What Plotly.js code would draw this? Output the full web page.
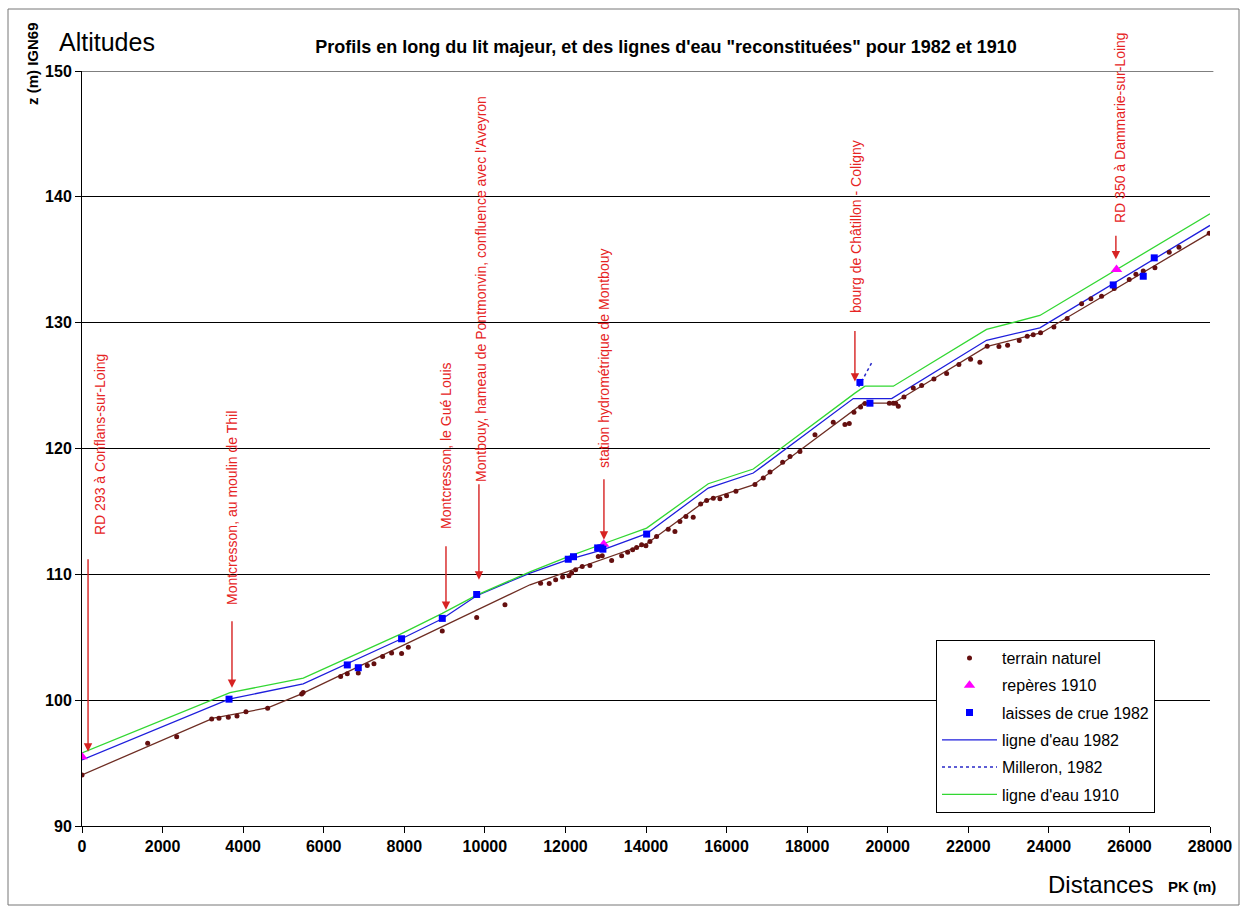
<!DOCTYPE html>
<html><head><meta charset="utf-8">
<script src="https://cdn.plot.ly/plotly-3.0.1.min.js"></script>
<style>html,body{margin:0;padding:0;background:#fff}</style>
</head><body><div id="chart" style="width:1244px;height:906px"></div>
<script>
// ---- data ----
const terrainLineX = [0, 3260, 4625, 5450, 11120, 14016, 15505, 16664, 19393, 20139, 22453, 23818, 27980];
const terrainLineY = [94.06, 98.57, 99.4, 100.5, 109.17, 112.43, 115.9, 117.1, 123.6, 123.6, 128.1, 129.2, 137.1];

const terrainX = [0,1630,2350,3219,3400,3632,3847,4070,4608,5452,5490,6420,6585,6850,6858,7082,7247,7462,7685,7933,8100,8943,9797,10499,11384,11598,11757,11930,12087,12154,12253,12417,12608,12814,12914,13147,13395,13544,13668,13767,13891,13998,14098,14263,14552,14718,14842,14991,15172,15356,15505,15670,15835,16000,16232,16705,16912,17078,17392,17575,17821,18194,18648,18938,19046,19162,19327,19435,20040,20139,20197,20263,20404,20635,20842,21147,21462,21767,22057,22288,22470,22761,22976,23265,23463,23612,23794,24125,24455,24813,25043,25309,25623,25995,26161,26343,26633,26988,27230,27980];
const terrainY = [94.06,96.58,97.10,98.50,98.57,98.65,98.75,99.07,99.35,100.50,100.60,101.88,102.10,102.55,102.15,102.75,102.90,103.47,103.74,103.70,104.20,105.50,106.57,107.58,109.30,109.28,109.57,109.78,109.89,110.10,110.37,110.63,110.70,111.41,111.48,111.10,111.48,111.76,111.95,112.13,112.35,112.27,112.60,113.00,113.59,113.40,114.20,114.60,114.54,115.58,115.86,116.05,116.00,116.25,116.60,117.13,117.65,118.13,118.90,119.37,119.77,121.10,122.08,121.90,121.98,122.88,123.30,123.57,123.60,123.60,123.60,123.35,124.10,124.80,125.00,125.53,125.96,126.67,127.10,126.85,128.13,128.10,128.20,128.58,128.93,129.03,129.20,129.65,130.33,131.50,131.90,132.10,132.72,133.44,133.84,134.10,134.37,135.60,136.00,137.10];

const reperesX = [0, 12950, 25680];
const reperesY = [95.5, 112.4, 134.23];

const laissesX = [3650, 6585, 6858, 7933, 8943, 9797, 12070, 12200, 12800, 12880, 12930, 14016, 19310, 19559, 25598, 26343, 26616];
const laissesY = [100.08, 102.8, 102.58, 104.88, 106.5, 108.4, 111.2, 111.4, 112.1, 112.1, 112.0, 113.2, 125.25, 123.6, 133.0, 133.69, 135.15];

const ligne1982X = [0, 3650, 5490, 7933, 8943, 9797, 11120, 12070, 12940, 14016, 15546, 16664, 19146, 20098, 22453, 23777, 28000];
const ligne1982Y = [95.25, 100.08, 101.3, 104.88, 106.47, 108.3, 110.1, 111.16, 111.96, 113.23, 116.86, 118.05, 123.97, 123.97, 128.6, 129.59, 137.73];

const milleronX = [19280, 19600];
const milleronY = [124.9, 126.8];

const ligne1910X = [0, 3673, 5493, 7893, 8943, 9797, 11120, 12070, 12940, 14016, 15546, 16664, 19186, 19435, 20139, 22453, 23777, 28000];
const ligne1910Y = [95.8, 100.6, 101.75, 105.23, 106.9, 108.35, 110.2, 111.4, 112.43, 113.67, 117.2, 118.37, 124.4, 124.95, 124.95, 129.46, 130.57, 138.66];

const xTicks = [0,2000,4000,6000,8000,10000,12000,14000,16000,18000,20000,22000,24000,26000,28000];
const yTicks = [90,100,110,120,130,140,150];

const seriesNames = ["terrain naturel", "repères 1910", "laisses de crue 1982", "ligne d'eau 1982", "Milleron, 1982", "ligne d'eau 1910"];

const places = ["RD 293 à Conflans-sur-Loing", "Montcresson, au moulin de Thil", "Montcresson, le Gué Louis",
  "Montbouy, hameau de Pontmonvin, confluence avec l'Aveyron", "station hydrométrique de Montbouy",
  "bourg de Châtillon - Coligny", "RD 350 à Dammarie-sur-Loing"];
const placeTipX = [150, 3723, 9035, 9853, 12956, 19186, 25664];
const placeTipY = [95.9, 100.98, 107.18, 109.57, 112.75, 125.32, 135.03];
const placeLabelX = [447, 3723, 9035, 9904, 12957, 19213, 25766];
const placeLabelY = [120.28, 115.27, 120.28, 132.68, 127.19, 137.6, 145.47];
const arrowLen = [-194, -68, -65, -97, -62, -52, -25];

// ---- traces ----
const F = '"Liberation Sans", Arial, sans-serif';
const traces = [
  {x: terrainLineX, y: terrainLineY, mode: 'lines', line: {color: 'rgb(110,45,35)', width: 1.3}, showlegend: false, hoverinfo: 'skip', legendgroup: 'g0'},
  {x: ligne1982X, y: ligne1982Y, mode: 'lines', name: seriesNames[3], line: {color: 'rgb(30,30,220)', width: 1.3}, legendrank: 4, legendgroup: 'g4'},
  {x: milleronX, y: milleronY, mode: 'lines', name: seriesNames[4], line: {color: 'rgb(40,40,200)', width: 1.5, dash: 'dot'}, legendrank: 5, legendgroup: 'g5'},
  {x: ligne1910X, y: ligne1910Y, mode: 'lines', name: seriesNames[5], line: {color: 'rgb(50,215,50)', width: 1.3}, legendrank: 6, legendgroup: 'g6'},
  {x: terrainX, y: terrainY, mode: 'markers', name: seriesNames[0], marker: {color: 'rgb(100,15,15)', size: 5, symbol: 'circle'}, legendrank: 1, legendgroup: 'g1'},
  {x: reperesX, y: reperesY, mode: 'markers', name: seriesNames[1], marker: {color: 'rgb(255,0,255)', size: 10, symbol: 'triangle-up'}, legendrank: 2, legendgroup: 'g2'},
  {x: laissesX, y: laissesY, mode: 'markers', name: seriesNames[2], marker: {color: 'rgb(0,0,255)', size: 7, symbol: 'square'}, legendrank: 3, legendgroup: 'g3'}
];

const px = v => (v - 82) / 1128;
const py = v => (826 - v) / 755;

const annotations = [];
for (let i = 0; i < places.length; i++) {
  annotations.push({x: placeTipX[i], y: placeTipY[i], xref: 'x', yref: 'y', text: '', showarrow: true,
    ax: 0, ay: arrowLen[i], arrowcolor: 'rgb(215,35,35)', arrowhead: 2, arrowsize: 1.2, arrowwidth: 1.4, standoff: 0});
  annotations.push({x: placeLabelX[i], y: placeLabelY[i], xref: 'x', yref: 'y', text: places[i], showarrow: false,
    textangle: -90, xanchor: 'center', yanchor: 'middle', font: {family: F, size: 14, color: 'rgb(230,35,35)'}});
}
annotations.push({x: px(107), y: py(42), xref: 'paper', yref: 'paper', text: 'Altitudes', showarrow: false,
  xanchor: 'center', yanchor: 'middle', font: {family: F, size: 25, color: '#000'}});
annotations.push({x: px(32), y: py(64), xref: 'paper', yref: 'paper', text: '<b>z (m) IGN69</b>', showarrow: false, textangle: -90,
  xanchor: 'center', yanchor: 'middle', font: {family: F, size: 15, color: '#000'}});
annotations.push({x: px(1100), y: py(885), xref: 'paper', yref: 'paper', text: 'Distances', showarrow: false,
  xanchor: 'center', yanchor: 'middle', font: {family: F, size: 24, color: '#000'}});
annotations.push({x: px(1192), y: py(886), xref: 'paper', yref: 'paper', text: '<b>PK (m)</b>', showarrow: false,
  xanchor: 'center', yanchor: 'middle', font: {family: F, size: 15, color: '#000'}});

const layout = {
  width: 1244, height: 906,
  margin: {l: 82, r: 34, t: 71, b: 80},
  paper_bgcolor: '#fff', plot_bgcolor: '#fff',
  title: {text: '<b>Profils en long du lit majeur, et des lignes d\'eau "reconstituées" pour 1982 et 1910</b>',
    x: 666/1244, xref: 'container', xanchor: 'center', y: 1 - 47/906, yref: 'container', yanchor: 'middle',
    font: {family: F, size: 18, color: '#000'}},
  xaxis: {range: [0, 28000], tickvals: xTicks, ticktext: xTicks.map(String), showgrid: false, zeroline: false,
    showline: true, linecolor: '#000', linewidth: 1, ticks: 'outside', ticklen: 6, tickcolor: '#000',
    tickfont: {family: F, size: 16, color: '#000', weight: 'bold'}},
  yaxis: {range: [90, 150], tickvals: yTicks, ticktext: yTicks.map(String), showgrid: true, gridcolor: '#000', gridwidth: 1,
    zeroline: false, showline: true, linecolor: '#000', linewidth: 1, ticks: 'outside', ticklen: 6, tickcolor: '#000',
    tickfont: {family: F, size: 16, color: '#000', weight: 'bold'}},
  legend: {x: px(936), y: py(640), xanchor: 'left', yanchor: 'top', bgcolor: '#fff', bordercolor: '#000', borderwidth: 1,
    font: {family: F, size: 16, color: '#000'}, traceorder: 'grouped', tracegroupgap: 3.5, itemwidth: 55},
  shapes: [
    {type: 'line', xref: 'paper', yref: 'y', x0: 0, x1: 1.003, y0: 150, y1: 150, line: {color: '#000', width: 1}},
    {type: 'rect', xref: 'paper', yref: 'paper', x0: px(8), x1: px(1239), y0: py(9), y1: py(905), line: {color: '#777', width: 1}}
  ],
  annotations: annotations,
  showlegend: true
};

Plotly.newPlot('chart', traces, layout, {displayModeBar: false, staticPlot: true});
</script>
</body></html>
